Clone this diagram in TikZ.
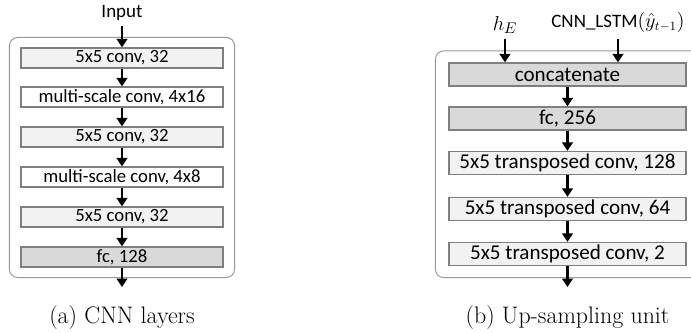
\documentclass[tikz,border=0pt]{standalone}
\usepackage{fontspec}
\usepackage{amsmath}
\newfontfamily\calibri{Carlito}
\usetikzlibrary{arrows.meta, positioning, fit}
\definecolor{boxgray}{HTML}{7F7F7F}
\definecolor{lightfill}{HTML}{F2F2F2}
\definecolor{darkfill}{HTML}{D9D9D9}
\tikzset{
  layer/.style={draw=boxgray, line width=0.8pt, minimum width=5.05cm, minimum height=0.5cm,
    inner sep=0pt, font=\calibri\fontsize{13.3}{15}\selectfont},
  uplayer/.style={layer, minimum width=5.925cm, minimum height=0.575cm,
    font=\calibri\fontsize{15}{17}\selectfont},
  flow/.style={-{Triangle[length=6pt,width=7.5pt]}, line width=2pt},
  frame/.style={draw=boxgray!80, line width=0.7pt, rounded corners=6pt, inner sep=0pt},
  caption/.style={font=\fontsize{17}{20}\selectfont}
}

\begin{document}
\begin{tikzpicture}[x=0.025cm, y=-0.025cm]
    \useasboundingbox (0,0) rectangle (691,333);
    \clip (0,0) rectangle (691,333);

    % CNN layers
    \node[font=\calibri\fontsize{13.5}{15}\selectfont] (input) at (122,13) {Input};
    \node[layer, fill=lightfill] (c1) at (122,58)  {5x5 conv, 32};
    \node[layer, fill=white]     (c2) at (122,97)  {multi-scale conv, 4x16};
    \node[layer, fill=lightfill] (c3) at (122,137) {5x5 conv, 32};
    \node[layer, fill=white]     (c4) at (122,177) {multi-scale conv, 4x8};
    \node[layer, fill=lightfill] (c5) at (122,217) {5x5 conv, 32};
    \node[layer, fill=darkfill]  (c6) at (122,257) {fc, 128};
    \coordinate (cout) at (122,287);

    % Frame round the CNN layers
    \node[frame, fit=(c1)(c6), inner xsep=0.275cm, inner ysep=0.25cm] (cframe) {};

    % Arrows through the CNN layers
    \draw[flow] (input) -- (c1);
    \draw[flow] (c1) -- (c2);
    \draw[flow] (c2) -- (c3);
    \draw[flow] (c3) -- (c4);
    \draw[flow] (c4) -- (c5);
    \draw[flow] (c5) -- (c6);
    \draw[flow] (c6) -- (cout);

    \node[caption] (capa) at (122,318) {(a) CNN layers};

    % Up-sampling unit
    \node[font=\fontsize{15}{17}\selectfont] (hE) at (505,25) {$h_E$};
    \node[font=\calibri\fontsize{13.5}{15}\selectfont, inner ysep=5pt] (lstm) at (618,22)
      {CNN\_LSTM$(\hat{y}_{t-1})$};
    \node[uplayer, fill=darkfill]  (concat) at (567.5,74.5) {concatenate};
    \node[uplayer, fill=darkfill]  (fc)     at (567.5,118.5) {fc, 256};
    \node[uplayer, fill=lightfill] (t128)   at (567.5,163) {5x5 transposed conv, 128};
    \node[uplayer, fill=lightfill] (t64)    at (567.5,209) {5x5 transposed conv, 64};
    \node[uplayer, fill=lightfill] (t2)     at (567.5,254) {5x5 transposed conv, 2};
    \coordinate (uout) at (567.5,287);

    % Frame round the up-sampling unit (open at the page edge)
    \node[frame, fit=(concat)(t2), inner xsep=0.325cm, inner ysep=0.29cm] (uframe) {};

    % Arrows through the up-sampling unit
    \draw[flow] (hE.south) -- (hE.south |- concat.north);
    \draw[flow] (lstm.south) -- (lstm.south |- concat.north);
    \draw[flow] (concat) -- (fc);
    \draw[flow] (fc) -- (t128);
    \draw[flow] (t128) -- (t64);
    \draw[flow] (t64) -- (t2);
    \draw[flow] (t2) -- (uout);

    \node[caption] (capb) at (567.5,318) {(b) Up-sampling unit};
\end{tikzpicture}
\end{document}
